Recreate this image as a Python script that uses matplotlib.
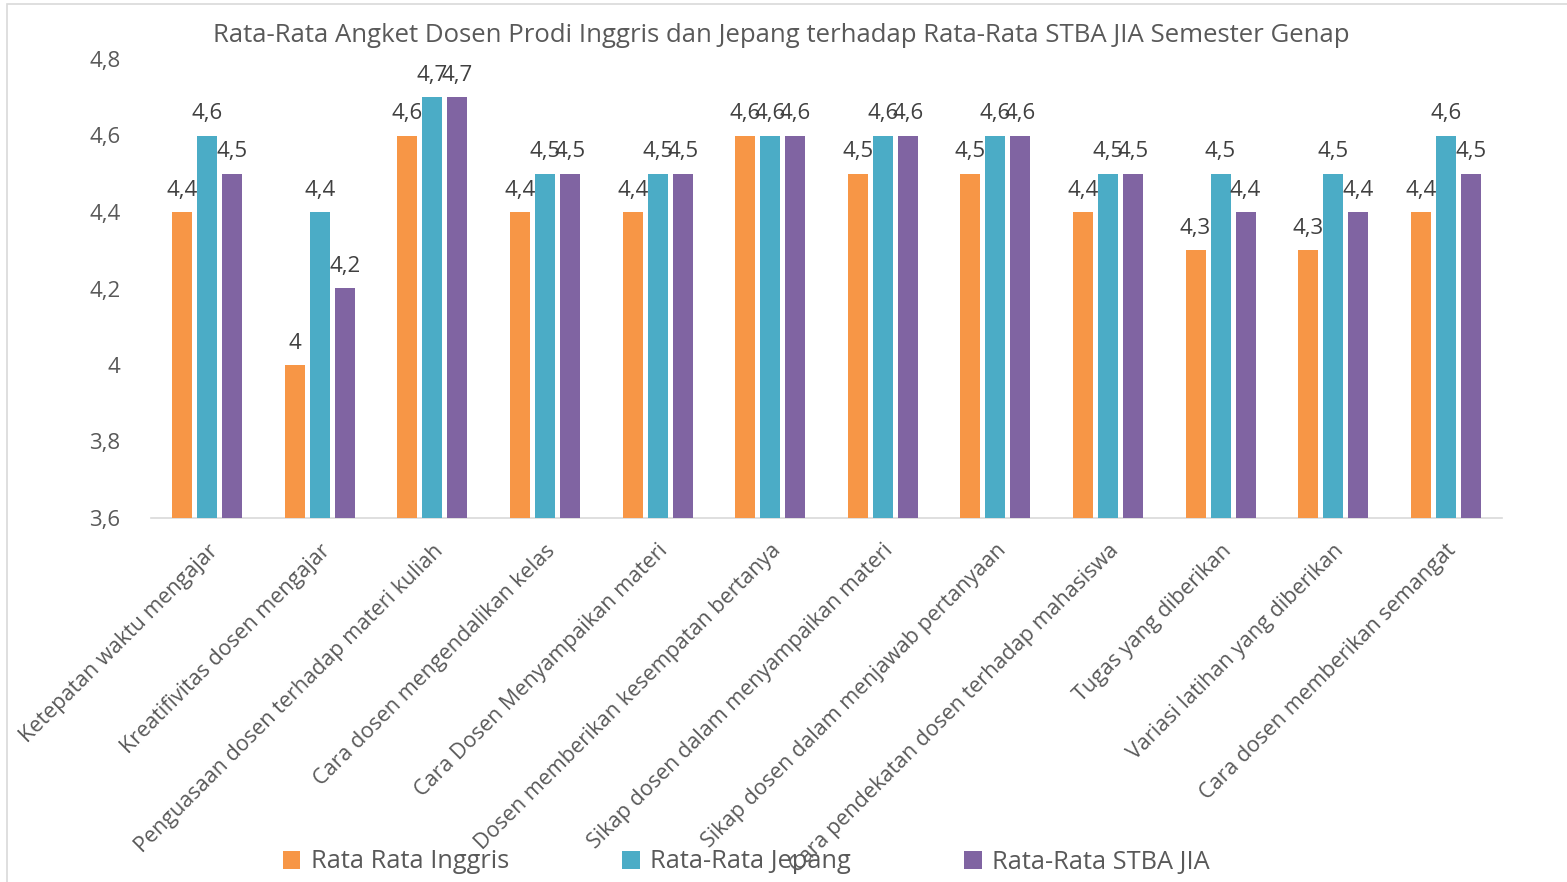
import matplotlib.pyplot as plt
import numpy as np
from matplotlib.patches import Rectangle

categories = ["Ketepatan waktu mengajar", "Kreatifivitas dosen mengajar",
              "Penguasaan dosen terhadap materi kuliah", "Cara dosen mengendalikan kelas",
              "Cara Dosen Menyampaikan materi", "Dosen memberikan kesempatan bertanya",
              "Sikap dosen dalam menyampaikan materi", "Sikap dosen dalam menjawab pertanyaan",
              "Cara pendekatan dosen terhadap mahasiswa", "Tugas yang diberikan",
              "Variasi latihan yang diberikan", "Cara dosen memberikan semangat"]
inggris = [4.4, 4.0, 4.6, 4.4, 4.4, 4.6, 4.5, 4.5, 4.4, 4.3, 4.3, 4.4]
jepang = [4.6, 4.4, 4.7, 4.5, 4.5, 4.6, 4.6, 4.6, 4.5, 4.5, 4.5, 4.6]
stba = [4.5, 4.2, 4.7, 4.5, 4.5, 4.6, 4.6, 4.6, 4.5, 4.4, 4.4, 4.5]
series_names = ["Rata Rata Inggris", "Rata-Rata Jepang", "Rata-Rata STBA JIA"]
yticks = [3.6, 3.8, 4.0, 4.2, 4.4, 4.6, 4.8]

colors = ["#F79646", "#4BACC6", "#8064A2"]
plt.rcParams['font.family'] = ['Open Sans', 'DejaVu Sans']


def fmt(v):
    s = ("%.1f" % v).rstrip('0').rstrip('.')
    return s.replace('.', ',')


fig = plt.figure(figsize=(15.67, 8.82), dpi=100)
ax = fig.add_axes([151 / 1567, 1 - 518 / 882, 1351 / 1567, 459 / 882])

x = np.arange(len(categories))
w = 0.178
step = 0.222
for k, vals in enumerate([inggris, jepang, stba]):
    pos = x + (k - 1) * step
    ax.bar(pos, np.array(vals) - 3.6, w, bottom=3.6, color=colors[k],
           label=series_names[k], zorder=3)
    for p, v in zip(pos, vals):
        ax.text(p, v + 0.03, fmt(v), ha='center', va='bottom',
                fontsize=16, color='#404040')

ax.set_xlim(-0.5, len(categories) - 0.5)
ax.set_ylim(3.6, 4.8)
ax.set_yticks(yticks)
ax.set_yticklabels([fmt(v) for v in yticks], fontsize=16, color='#595959')
ax.set_xticks(x)
ax.set_xticklabels(categories, rotation=45, ha='right', rotation_mode='anchor',
                   fontsize=15.5, color='#595959')
ax.tick_params(axis='y', length=0, pad=22)
ax.tick_params(axis='x', length=0, pad=16)
for s in ['top', 'right', 'left']:
    ax.spines[s].set_visible(False)
ax.spines['bottom'].set_color('#D9D9D9')
ax.spines['bottom'].set_linewidth(1.2)

fig.text(781 / 1567, 1 - 36 / 882, "Rata-Rata Angket Dosen Prodi Inggris dan Jepang terhadap Rata-Rata STBA JIA Semester Genap",
         ha='center', va='center', fontsize=18.5, color='#595959')

fig.legend(loc='center', bbox_to_anchor=(746 / 1567, 1 - 862 / 882), ncol=3,
           frameon=False, fontsize=18.3, handlelength=0.7, handleheight=0.7,
           columnspacing=4.45, handletextpad=0.4, labelcolor='#595959')

fig.patches.append(Rectangle((7 / 1567, -0.01), 1.02, 1 - 4 / 882 + 0.01,
                             transform=fig.transFigure, fill=False,
                             edgecolor='#D9D9D9', linewidth=1.2))

fig.savefig('out.png', dpi=100)
